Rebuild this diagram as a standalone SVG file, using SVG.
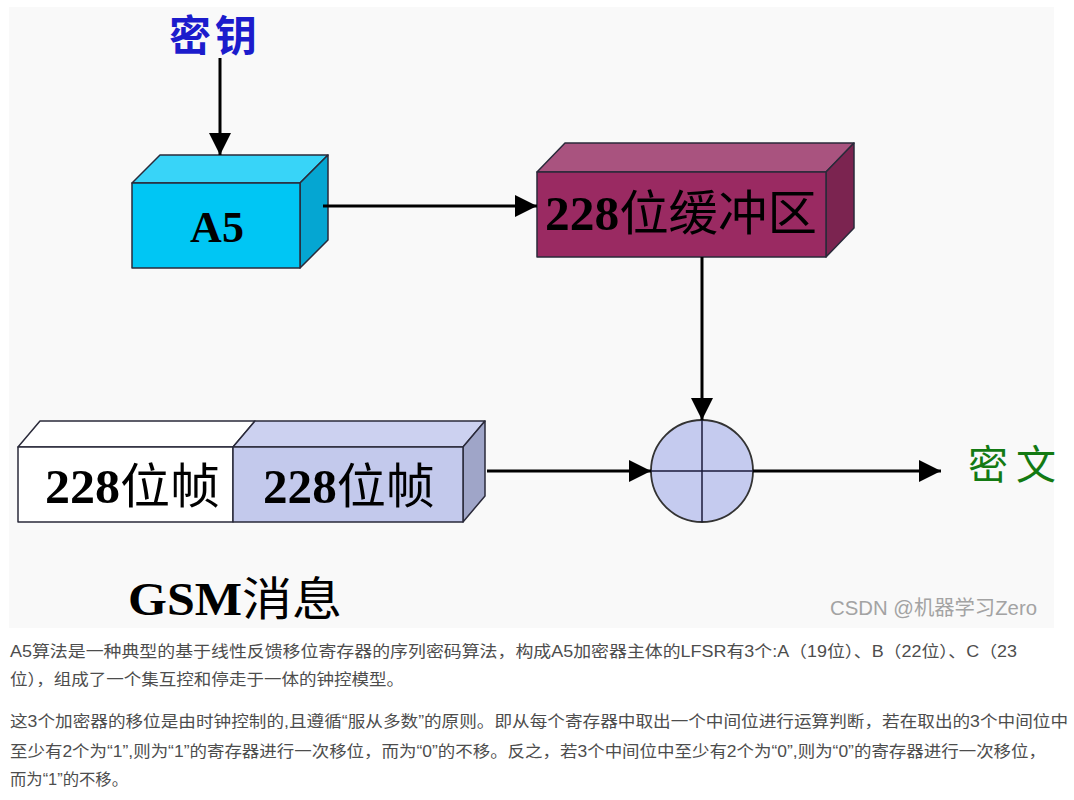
<svg xmlns="http://www.w3.org/2000/svg" width="1074" height="800" viewBox="0 0 1074 800">
<style>
.lat{font-family:"Liberation Serif","Noto Sans CJK SC",serif;font-weight:bold;}
.cjk{font-family:"Noto Sans CJK SC",sans-serif;font-weight:normal;}
.conn{stroke:#000;stroke-width:3;fill:none;}
.body{font-family:"Liberation Sans","Noto Sans CJK SC",sans-serif;font-size:16px;fill:#4d4d4d;}
.edge{stroke:#2a2a3a;stroke-width:1.5;stroke-linejoin:round;}
</style>
<defs>
<marker id="ah" markerUnits="userSpaceOnUse" markerWidth="22" markerHeight="22" viewBox="0 0 22 22" refX="22" refY="11" orient="auto">
<path d="M0,0 L22,11 L0,22 Z" fill="#000"/>
</marker>
</defs>
<rect x="0" y="0" width="1074" height="800" fill="#ffffff"/>
<rect x="9" y="7" width="1045" height="621" fill="#f9f9f9"/>

<g id="key-label">
<text x="215" y="51" class="cjk" font-size="42" font-weight="bold" fill="#1c1ccc" text-anchor="middle" letter-spacing="4" style="font-weight:bold">密钥</text>
</g>

<g id="a5">
<polygon class="edge" points="132,183 160,155 328,155 300,183" fill="#38d4f8"/>
<polygon class="edge" points="300,183 328,155 328,240 300,268" fill="#05a6d2"/>
<rect class="edge" x="132" y="183" width="168" height="85" fill="#00c6f4"/>
<text x="217" y="242" class="lat" font-size="44" fill="#000" text-anchor="middle">A5</text>
</g>

<g id="buffer">
<polygon class="edge" points="537,172 565,143 854,143 826,172" fill="#a9537f" stroke="#3a1228"/>
<polygon class="edge" points="826,172 854,143 854,228 826,257" fill="#7b2450" stroke="#3a1228"/>
<rect class="edge" x="537" y="172" width="289" height="85" fill="#9a2a62" stroke="#3a1228"/>
<text x="545" y="230" font-size="48" fill="#000" textLength="272" lengthAdjust="spacingAndGlyphs"><tspan class="lat">228</tspan><tspan class="cjk">位缓冲区</tspan></text>
</g>

<g id="frame1">
<polygon class="edge" points="18,447 40,421 255,421 233,447" fill="#ffffff" stroke="#555"/>
<rect class="edge" x="18" y="447" width="215" height="75" fill="#ffffff" stroke="#555"/>
<text x="45" y="503" font-size="48" fill="#000" textLength="175" lengthAdjust="spacingAndGlyphs"><tspan class="lat">228</tspan><tspan class="cjk">位帧</tspan></text>
</g>

<g id="frame2">
<polygon class="edge" points="233,447 255,421 485,421 463,447" fill="#ccd1f0" stroke="#555"/>
<polygon class="edge" points="463,447 485,421 485,496 463,522" fill="#9fa5c8" stroke="#555"/>
<rect class="edge" x="233" y="447" width="230" height="75" fill="#c3c9ec" stroke="#555"/>
<text x="263" y="503" font-size="48" fill="#000" textLength="172" lengthAdjust="spacingAndGlyphs"><tspan class="lat">228</tspan><tspan class="cjk">位帧</tspan></text>
</g>

<g id="xor">
<circle cx="702" cy="471" r="51" fill="#c5cbef" stroke="#333" stroke-width="1.8"/>
<line x1="702" y1="420" x2="702" y2="522" stroke="#1a1a3a" stroke-width="1.5"/>
<line x1="651" y1="471" x2="753" y2="471" stroke="#1a1a3a" stroke-width="1.5"/>
</g>

<g id="cipher-label">
<text x="968" y="479" class="cjk" font-size="40" fill="#137a13" letter-spacing="8">密文</text>
</g>

<g id="gsm-label">
<text x="128" y="615" font-size="46" fill="#000" textLength="214" lengthAdjust="spacingAndGlyphs"><tspan class="lat">GSM</tspan><tspan class="cjk">消息</tspan></text>
</g>

<g id="connectors">
<line class="conn" x1="220" y1="58" x2="220" y2="155" marker-end="url(#ah)"/>
<line class="conn" x1="323" y1="206" x2="537" y2="206" marker-end="url(#ah)"/>
<line class="conn" x1="702" y1="257" x2="702" y2="420" marker-end="url(#ah)"/>
<line class="conn" x1="487" y1="471" x2="651" y2="471" marker-end="url(#ah)"/>
<line class="conn" x1="753" y1="471" x2="941" y2="471" marker-end="url(#ah)"/>
</g>

<text x="830" y="615" font-family="Liberation Sans, Noto Sans CJK SC, sans-serif" font-size="20" fill="#a3a3a3" textLength="207" lengthAdjust="spacingAndGlyphs">CSDN @机器学习Zero</text>

<g id="description">
<text class="body" x="10" y="657" textLength="1007" lengthAdjust="spacingAndGlyphs">A5算法是一种典型的基于线性反馈移位寄存器的序列密码算法，构成A5加密器主体的LFSR有3个:A（19位）、B（22位）、C（23</text>
<text class="body" x="10" y="685" textLength="394" lengthAdjust="spacingAndGlyphs">位），组成了一个集互控和停走于一体的钟控模型。</text>
<text class="body" x="10" y="727" textLength="1058" lengthAdjust="spacingAndGlyphs">这3个加密器的移位是由时钟控制的,且遵循“服从多数”的原则。即从每个寄存器中取出一个中间位进行运算判断，若在取出的3个中间位中</text>
<text class="body" x="10" y="757" textLength="1036" lengthAdjust="spacingAndGlyphs">至少有2个为“1”,则为“1”的寄存器进行一次移位，而为“0”的不移。反之，若3个中间位中至少有2个为“0”,则为“0”的寄存器进行一次移位，</text>
<text class="body" x="10" y="785" textLength="118" lengthAdjust="spacingAndGlyphs">而为“1”的不移。</text>
</g>
</svg>
